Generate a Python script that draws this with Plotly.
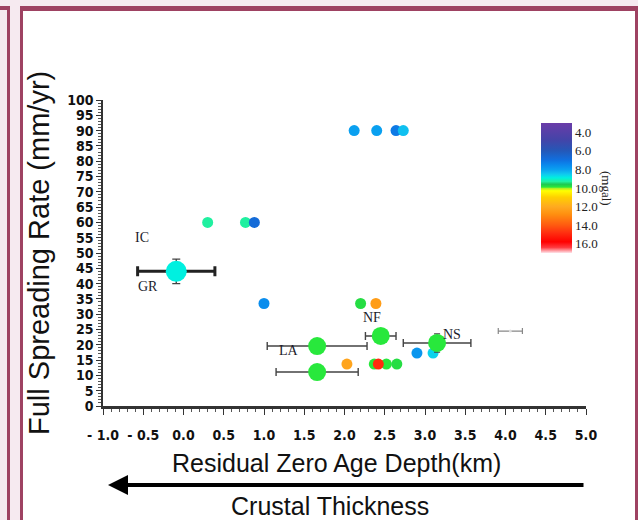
import plotly.graph_objects as go

# ---------------- data ----------------
# small (no error bar) points
small_x = [2.12, 2.40, 2.64, 2.73, 0.30, 0.77, 0.88, 1.00, 2.20, 2.39, 2.90, 3.10, 2.03, 2.37, 2.52, 2.65, 2.42]
small_y = [90, 90, 90, 90, 60, 60, 60, 33.5, 33.5, 33.5, 17.3, 17.3, 13.7, 13.7, 13.7, 13.7, 13.7]
small_mgal = [8.0, 8.0, 7.2, 8.4, 9.3, 9.3, 6.8, 7.6, 9.8, 12.4, 7.8, 8.6, 12.2, 9.9, 9.9, 9.8, 14.9]

# GR (thick error bars)
gr_x = [-0.09]
gr_y = [44.0]
gr_xerr = [0.48]
gr_yerr = [4.0]
gr_mgal = [8.9]

# LA / NF / NS (thin error bars)
big_x = [1.66, 1.66, 2.45, 3.15]
big_y = [19.6, 11.1, 22.9, 20.6]
big_xerr = [0.62, 0.51, 0.19, 0.42]
big_yerr = [0, 0, 0, 3.0]
big_mgal = [9.9, 9.9, 9.9, 9.9]

# faint point on the right
faint_x = [4.06]
faint_y = [24.5]
faint_xerr = [0.15]

site_labels = ["IC", "GR", "NF", "NS", "LA"]
site_label_x = [-0.51, -0.44, 2.34, 3.34, 1.31]
site_label_y = [55.0, 39.2, 28.8, 23.5, 18.3]

x_tickvals = [-1.0, -0.5, 0.0, 0.5, 1.0, 1.5, 2.0, 2.5, 3.0, 3.5, 4.0, 4.5, 5.0]
x_ticktext = ["- 1.0", "- 0.5", "0.0", "0.5", "1.0", "1.5", "2.0", "2.5", "3.0", "3.5", "4.0", "4.5", "5.0"]
y_tickvals = list(range(0, 101, 5))
cb_tickvals = [4, 6, 8, 10, 12, 14, 16]
cb_ticktext = ["4.0", "6.0", "8.0", "10.0", "12.0", "14.0", "16.0"]

# ---------------- geometry helpers ----------------
W, H = 638, 520
L, R, T, B = 103, 586, 100, 406


def xp(px):
    return (px - L) / (R - L)


def yp(py):
    return (B - py) / (B - T)


MGAL_MIN, MGAL_MAX = 3.0, 17.0
# colorscale (mgal -> colour), plotted on negated value so 4 is on top
stops = [
    (17.0, "#ffe4ea"), (16.4, "#ff3a40"), (15.8, "#ff0000"), (14.8, "#ff3010"),
    (14.0, "#ff5a10"), (12.8, "#ff9010"), (12.0, "#ffaa20"), (11.0, "#ffd000"),
    (10.3, "#ffff00"), (10.05, "#b0f020"), (9.9, "#28e83c"), (9.6, "#20c850"),
    (9.3, "#20f0a0"), (8.9, "#00f0e0"), (8.5, "#10c8f0"), (8.0, "#0aa0f0"),
    (7.5, "#0a88ec"), (7.0, "#1070e0"), (6.0, "#2458b8"), (4.8, "#4444a8"),
    (3.0, "#6a3ca8"),
]
colorscale = [[(MGAL_MAX - m) / (MGAL_MAX - MGAL_MIN), c] for m, c in stops]


def neg(v):
    return [-a for a in v]


fig = go.Figure()

fig.add_trace(go.Scatter(
    x=small_x, y=small_y, mode="markers",
    marker=dict(size=11, color=neg(small_mgal), coloraxis="coloraxis", line=dict(width=0)),
    showlegend=False,
))

fig.add_trace(go.Scatter(
    x=faint_x, y=faint_y, mode="markers",
    marker=dict(size=3, color="#dddddd"),
    error_x=dict(type="data", array=faint_xerr, color="#888888", thickness=1.2, width=3),
    showlegend=False,
))

fig.add_trace(go.Scatter(
    x=big_x, y=big_y, mode="markers",
    marker=dict(size=18, color=neg(big_mgal), coloraxis="coloraxis", line=dict(width=0)),
    error_x=dict(type="data", array=big_xerr, color="#444444", thickness=1.4, width=4),
    error_y=dict(type="data", array=big_yerr, color="#444444", thickness=1.2, width=3),
    showlegend=False,
))

fig.add_trace(go.Scatter(
    x=gr_x, y=gr_y, mode="markers",
    marker=dict(size=21, color=neg(gr_mgal), coloraxis="coloraxis", line=dict(width=0)),
    error_x=dict(type="data", array=gr_xerr, color="#222222", thickness=3, width=5),
    error_y=dict(type="data", array=gr_yerr, color="#444444", thickness=1.4, width=4),
    showlegend=False,
))

# ---------------- frame shapes ----------------
MAROON = "#9e4262"
shapes = [
    dict(type="rect", xref="paper", yref="paper", x0=xp(7), x1=xp(10), y0=yp(6), y1=yp(530),
         fillcolor=MAROON, line=dict(width=0), layer="below"),
    dict(type="rect", xref="paper", yref="paper", x0=xp(-5), x1=xp(10), y0=yp(6), y1=yp(10),
         fillcolor=MAROON, line=dict(width=0), layer="below"),
    dict(type="rect", xref="paper", yref="paper", x0=xp(20), x1=xp(645), y0=yp(6), y1=yp(530),
         fillcolor=MAROON, line=dict(width=0), layer="below"),
    dict(type="rect", xref="paper", yref="paper", x0=xp(23), x1=xp(635), y0=yp(11), y1=yp(530),
         fillcolor="white", line=dict(width=0), layer="below"),
]

annotations = []
for t, x, y in zip(site_labels, site_label_x, site_label_y):
    annotations.append(dict(x=x, y=y, xref="x", yref="y", text=t, showarrow=False,
                            xanchor="center", yanchor="middle",
                            font=dict(family="Liberation Serif, Times New Roman, serif", size=14, color="#1c1c2c")))

annotations += [
    dict(x=xp(39), y=yp(253), xref="paper", yref="paper", text="Full Spreading Rate (mm/yr)",
         textangle=-90, showarrow=False, xanchor="center", yanchor="middle",
         font=dict(family="Liberation Sans, Arial, sans-serif", size=29, color="#111111")),
    dict(x=xp(336), y=yp(463), xref="paper", yref="paper", text="Residual Zero Age Depth(km)",
         showarrow=False, xanchor="center", yanchor="middle",
         font=dict(family="Liberation Sans, Arial, sans-serif", size=25, color="#111111")),
    dict(x=xp(330), y=yp(506), xref="paper", yref="paper", text="Crustal Thickness",
         showarrow=False, xanchor="center", yanchor="middle",
         font=dict(family="Liberation Sans, Arial, sans-serif", size=25, color="#111111")),
    dict(x=xp(108), y=yp(485), xref="paper", yref="paper", ax=477, ay=0, text="",
         showarrow=True, arrowhead=2, arrowsize=1.0, arrowwidth=4, arrowcolor="#000000"),
    dict(x=xp(607), y=yp(188), xref="paper", yref="paper", text="(mgal)", textangle=90,
         showarrow=False, xanchor="center", yanchor="middle",
         font=dict(family="Liberation Serif, Times New Roman, serif", size=13, color="#222222")),
]

tickfont = dict(family="Liberation Sans Narrow, DejaVu Sans Condensed, Arial Narrow, sans-serif",
                size=14, color="#111111", weight="bold")

fig.update_layout(
    width=W, height=H,
    margin=dict(l=L, r=W - R, t=T, b=H - B, pad=0),
    paper_bgcolor="#f6eaf0",
    plot_bgcolor="rgba(0,0,0,0)",
    shapes=shapes,
    annotations=annotations,
    coloraxis=dict(
        colorscale=colorscale, cmin=-MGAL_MAX, cmax=-MGAL_MIN,
        colorbar=dict(
            x=xp(541), xanchor="left", y=yp(188), yanchor="middle",
            thickness=31, thicknessmode="pixels", len=130, lenmode="pixels",
            xpad=0, ypad=0, outlinewidth=0,
            tickvals=neg(cb_tickvals), ticktext=cb_ticktext, ticks="", ticklen=0,
            ticklabelposition="outside",
            tickfont=dict(family="Liberation Serif, Times New Roman, serif", size=13, color="#222222"),
        ),
    ),
    xaxis=dict(
        range=[-1.0, 5.0], showgrid=False, zeroline=False,
        showline=True, linecolor="#333333", linewidth=2.5,
        ticks="outside", ticklen=6, tickwidth=1, tickcolor="#333333",
        tickvals=x_tickvals, ticktext=x_ticktext, tickfont=tickfont,
        ticklabelstandoff=8,
        minor=dict(ticks="outside", ticklen=3, dtick=0.1, tickcolor="#555555", showgrid=False),
    ),
    yaxis=dict(
        range=[0, 100], showgrid=False, zeroline=False,
        showline=True, linecolor="#333333", linewidth=1.5,
        ticks="outside", ticklen=5, tickwidth=1, tickcolor="#333333",
        tickvals=y_tickvals, tickfont=tickfont,
        minor=dict(ticks="outside", ticklen=3, dtick=1, tickcolor="#555555", showgrid=False),
    ),
)

fig.write_html("out.html", config={"displayModeBar": False},
               post_script="document.body.style.margin='0px';")
